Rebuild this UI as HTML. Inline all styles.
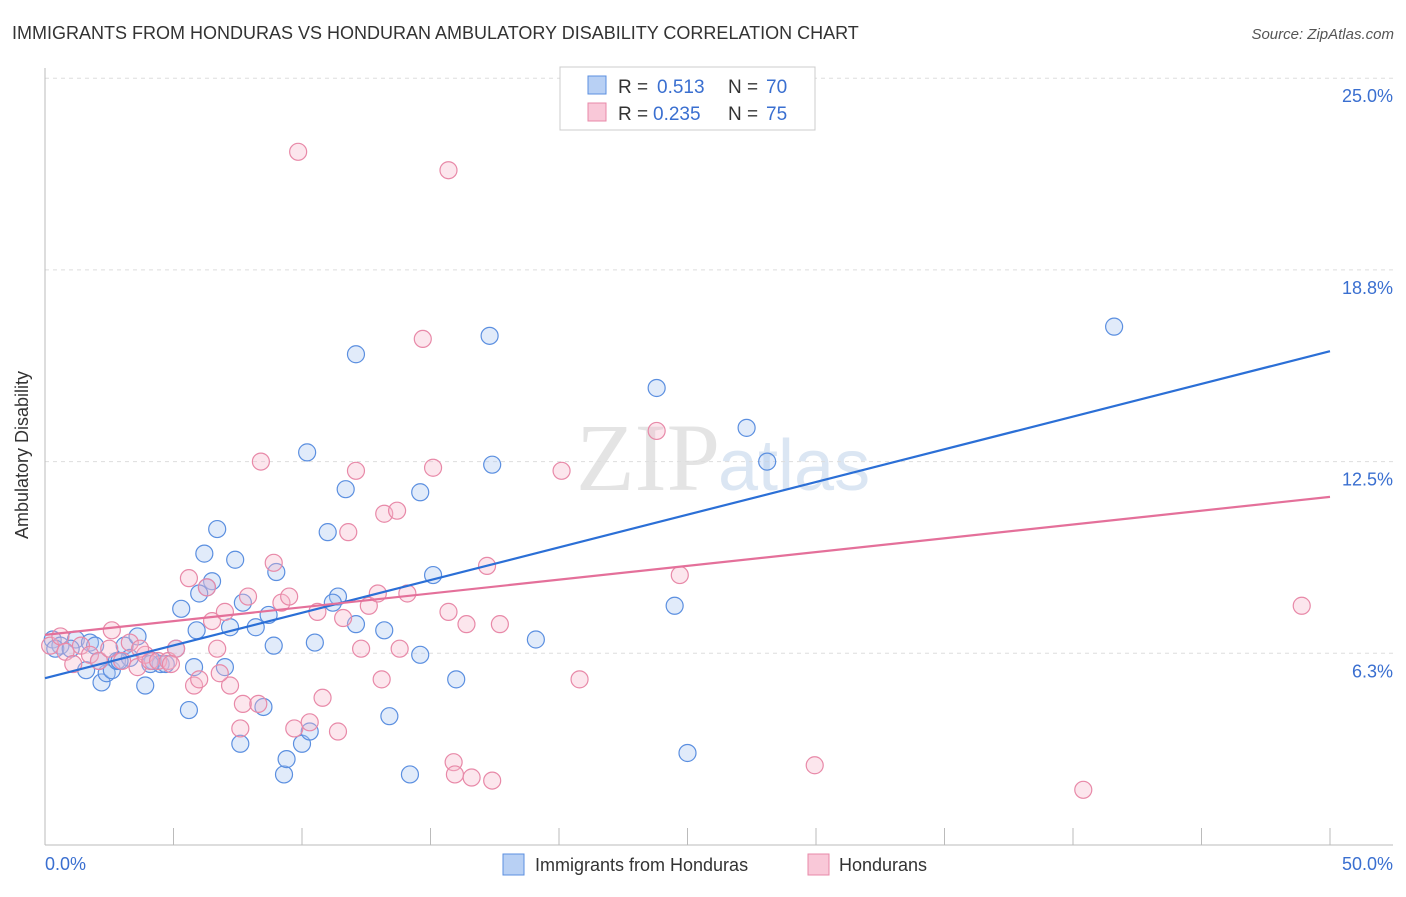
<!DOCTYPE html>
<html><head><meta charset="utf-8"><style>
body{margin:0;background:#fff;font-family:"Liberation Sans",sans-serif;}
</style></head><body>
<svg id="c" width="1406" height="892" xmlns="http://www.w3.org/2000/svg">
<text x="12" y="39" font-size="18" fill="#333">IMMIGRANTS FROM HONDURAS VS HONDURAN AMBULATORY DISABILITY CORRELATION CHART</text>
<text x="1394" y="39" font-size="15" fill="#555" font-style="italic" text-anchor="end">Source: ZipAtlas.com</text>
<text x="720" y="490" font-size="96" fill="#e4e4e4" text-anchor="end" font-family="Liberation Serif">ZIP</text>
<text x="718" y="490" font-size="72" fill="#dbe6f3">atlas</text>
<g id="grid"></g><g id="pts"></g><g id="lines"></g>
<text x="28" y="455" font-size="18" fill="#333" transform="rotate(-90 28 455)" text-anchor="middle">Ambulatory Disability</text>
<text x="45" y="870" font-size="18" fill="#3a6fd0">0.0%</text>
<text x="1393" y="870" font-size="18" fill="#3a6fd0" text-anchor="end">50.0%</text>
<g>
<rect x="560" y="67" width="255" height="63" fill="#fff" stroke="#ccc"/>
<rect x="588" y="76" width="18" height="18" fill="#b8d0f4" stroke="#5b8fe0"/>
<rect x="588" y="103" width="18" height="18" fill="#f9c8d8" stroke="#e889a8"/>
<text x="618" y="93" font-size="19" fill="#333">R =</text>
<text x="657" y="93" font-size="19" fill="#3a6fd0">0.513</text>
<text x="728" y="93" font-size="19" fill="#333">N =</text>
<text x="766" y="93" font-size="19" fill="#3a6fd0">70</text>
<text x="618" y="120" font-size="19" fill="#333">R =</text>
<text x="653" y="120" font-size="19" fill="#3a6fd0">0.235</text>
<text x="728" y="120" font-size="19" fill="#333">N =</text>
<text x="766" y="120" font-size="19" fill="#3a6fd0">75</text>
</g>
<g>
<rect x="503" y="854" width="21" height="21" fill="#b8d0f4" stroke="#5b8fe0"/>
<text x="535" y="871" font-size="18" fill="#333">Immigrants from Honduras</text>
<rect x="808" y="854" width="21" height="21" fill="#f9c8d8" stroke="#e889a8"/>
<text x="839" y="871" font-size="18" fill="#333">Hondurans</text>
</g>
</svg>
<script>
const yTicks=[25,18.75,12.5,6.25];
const yTickLabels=["25.0%","18.8%","12.5%","6.3%"];
const blueX=[0.3,0.6,1.2,1.75,1.95,1.6,2.2,2.4,2.6,2.8,3.1,3.3,3.6,3.9,4.2,4.5,4.7,5.1,5.3,5.6,5.8,5.9,6.2,6.5,6.7,7.0,7.2,7.4,7.6,7.7,8.2,8.5,8.9,9.0,9.3,9.4,10.0,10.2,10.3,10.5,11.0,11.4,11.2,11.7,12.1,12.1,13.2,13.4,14.2,14.6,14.6,15.1,16.0,17.3,17.4,19.1,23.8,24.5,25.0,27.3,28.1,41.6,0.4,1.0,2.1,2.9,4.1,6.3,8.7,6.0];
const blueY=[6.7,6.5,6.7,6.6,6.5,5.7,5.3,5.6,5.7,6.0,6.5,6.1,6.8,5.2,6.0,5.9,5.9,6.4,7.7,4.4,5.8,7.0,9.5,8.6,10.3,5.8,7.1,9.3,3.3,7.9,7.1,4.5,6.5,8.9,2.3,2.8,3.3,12.8,3.7,6.6,10.2,8.1,7.9,11.6,7.2,16.0,7.0,4.2,2.3,6.2,11.5,8.8,5.4,16.6,12.4,6.7,14.9,7.8,3.0,13.6,12.5,16.9,6.4,6.4,6.0,6.0,5.9,8.4,7.5,8.2];
const pinkX=[0.2,0.6,0.8,1.4,1.75,2.1,2.6,3.0,3.3,3.6,3.9,4.1,4.4,4.8,5.1,5.6,5.8,6.0,6.3,6.5,6.7,7.0,7.2,7.6,7.7,7.9,8.3,8.4,8.9,9.2,9.5,9.7,9.85,10.3,10.6,10.8,11.4,11.6,11.8,12.1,12.3,12.6,12.95,13.1,13.2,13.7,13.8,14.1,14.7,15.1,15.7,15.9,15.95,16.4,16.6,17.2,17.4,17.7,20.1,20.8,23.8,24.7,29.95,40.4,48.9,2.5,4.9,1.1,3.7,6.8,15.7];
const pinkY=[6.5,6.8,6.3,6.5,6.2,6.0,7.0,6.0,6.6,5.8,6.2,6.0,6.0,6.0,6.4,8.7,5.2,5.4,8.4,7.3,6.4,7.6,5.2,3.8,4.6,8.1,4.6,12.5,9.2,7.9,8.1,3.8,22.6,4.0,7.6,4.8,3.7,7.4,10.2,12.2,6.4,7.8,8.2,5.4,10.8,10.9,6.4,8.2,16.5,12.3,7.6,2.7,2.3,7.2,2.2,9.1,2.1,7.2,12.2,5.4,13.5,8.8,2.6,1.8,7.8,6.4,5.9,5.9,6.4,5.6,22.0];
const blueFit=[5.44,16.1];
const pinkFit=[6.85,11.35];
const X=v=>45+v/50*1285, Y=v=>845-v/6.25*191.7;
const ns="http://www.w3.org/2000/svg";
function mk(t,a,p){const e=document.createElementNS(ns,t);for(const k in a)e.setAttribute(k,a[k]);p.appendChild(e);return e;}
const g=document.getElementById('grid');
yTicks.forEach((t,i)=>{const l=mk('line',{x1:45,x2:1393,y1:Y(t),y2:Y(t),stroke:'#ddd','stroke-dasharray':'4,4'},g);


const tx=mk('text',{x:1393,y:Y(t)+24,'font-size':18,fill:'#3a6fd0','text-anchor':'end'},g);tx.textContent=yTickLabels[i];

});
const ax=mk('line',{x1:45,x2:45,y1:68,y2:845,stroke:'#bbb'},g);


const bx=mk('line',{x1:45,x2:1393,y1:845,y2:845,stroke:'#bbb'},g);


for(let i=0;i<=10;i++){const t=mk('line',{x1:X(i*5),x2:X(i*5),y1:828,y2:845,stroke:'#bbb'},g);

}
const p=document.getElementById('pts');
function pts(xs,ys,f,s,n){xs.forEach((x,i)=>{const c=mk('circle',{cx:X(x),cy:Y(ys[i]),r:8.5,fill:f,'fill-opacity':0.35,stroke:s,'stroke-width':1.2},p);

});}
pts(blueX,blueY,'#a9c6f0','#5b8fe0','blue-point');
pts(pinkX,pinkY,'#f6b8cc','#e889a8','pink-point');
const L=document.getElementById('lines');
const bl=mk('line',{x1:X(0),y1:Y(blueFit[0]),x2:X(50),y2:Y(blueFit[1]),stroke:'#2b6fd6','stroke-width':2.2},L);


const pl=mk('line',{x1:X(0),y1:Y(pinkFit[0]),x2:X(50),y2:Y(pinkFit[1]),stroke:'#e4709a','stroke-width':2.2},L);


</script>
</body></html>
